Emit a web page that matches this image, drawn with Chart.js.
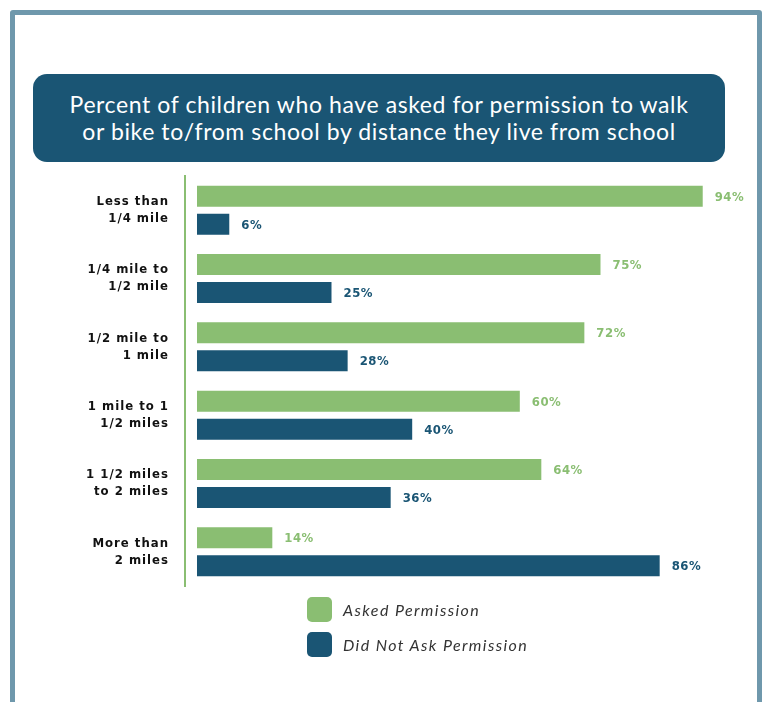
<!DOCTYPE html>
<html>
<head>
<meta charset="utf-8">
<script src="https://cdn.jsdelivr.net/npm/chart.js@4"></script>
<style>
  html, body { margin: 0; padding: 0; background: #fff; overflow: hidden; }
  body { width: 763px; height: 702px; position: relative; }
  .frame {
    position: absolute; left: 10px; top: 10px; width: 752px; height: 740px;
    border: 5px solid #6f98ac; border-radius: 3px; box-sizing: border-box;
  }
  .title-box {
    position: absolute; left: 33px; top: 74px; width: 692px; height: 88px;
    background: #1a5574; border-radius: 14px; color: #fff;
    font-family: Lato, sans-serif; font-size: 23px; line-height: 27px;
    text-align: center; display: flex; align-items: center; justify-content: center;
    letter-spacing: 0.6px;
  }
  canvas#chart { position: absolute; left: 0; top: 0; }
  .legend { position: absolute; left: 307px; top: 597px; }
  .legend-item { display: flex; align-items: center; height: 25px; margin-bottom: 10px; }
  .legend-swatch { width: 25px; height: 25px; border-radius: 5px; margin-right: 11px; }
  .legend-text {
    font-family: Lato, sans-serif; font-style: italic; font-size: 16px;
    letter-spacing: 1.4px; color: #333;
  }
</style>
</head>
<body>
<div class="frame"></div>
<div class="title-box">
  <div>Percent of children who have asked for permission to walk<br>or bike to/from school by distance they live from school</div>
</div>
<canvas id="chart" width="763" height="702"></canvas>
<div class="legend" id="legend"></div>

<script>
// ---- data ----
const distances = [
  ['Less than', '1/4 mile'],
  ['1/4 mile to', '1/2 mile'],
  ['1/2 mile to', '1 mile'],
  ['1 mile to 1', '1/2 miles'],
  ['1 1/2 miles', 'to 2 miles'],
  ['More than', '2 miles'],
];
const askedPermission = [94, 75, 72, 60, 64, 14];
const didNotAsk = [6, 25, 28, 40, 36, 86];
const seriesNames = ['Asked Permission', 'Did Not Ask Permission'];

const GREEN = '#8abe72';
const BLUE = '#1a5574';

// value labels at the end of each bar
const barValueLabels = {
  id: 'barValueLabels',
  afterDatasetsDraw(chart) {
    const ctx = chart.ctx;
    ctx.save();
    ctx.font = 'bold 13px "DejaVu Sans Condensed", sans-serif';
    ctx.letterSpacing = '0.5px';
    ctx.textAlign = 'left';
    ctx.textBaseline = 'middle';
    chart.data.datasets.forEach((ds, i) => {
      const meta = chart.getDatasetMeta(i);
      ctx.fillStyle = ds.backgroundColor;
      meta.data.forEach((bar, j) => {
        ctx.fillText(ds.data[j] + '%', bar.x + 12, bar.y + 1);
      });
    });
    ctx.restore();
  },
};

// a bit of tracking on the category labels
const tracking = {
  id: 'tracking',
  beforeDraw(chart) { chart.ctx.letterSpacing = '1px'; },
};

const chart = new Chart(document.getElementById('chart'), {
  type: 'bar',
  data: {
    labels: distances,
    datasets: [
      { label: seriesNames[0], data: askedPermission, backgroundColor: GREEN },
      { label: seriesNames[1], data: didNotAsk, backgroundColor: BLUE },
    ],
  },
  options: {
    indexAxis: 'y',
    responsive: false,
    animation: false,
    categoryPercentage: 0.82,
    barPercentage: 0.75,
    layout: { padding: { left: 0, right: 28, top: 176, bottom: 116 } },
    plugins: {
      legend: { display: false },
      tooltip: { enabled: false },
    },
    scales: {
      x: { display: false, min: -2.23, max: 100 },
      y: {
        grid: { display: false, drawTicks: false },
        border: { display: true, color: GREEN, width: 2 },
        ticks: {
          padding: 16,
          color: '#111',
          font: { family: '"DejaVu Sans Condensed", sans-serif', size: 13, weight: 'bold', lineHeight: 1.3 },
        },
        afterFit(scale) { scale.width = 185; },
      },
    },
  },
  plugins: [barValueLabels, tracking],
});

// html legend built from the datasets
document.getElementById('legend').innerHTML = chart.data.datasets.map((ds) => `
  <div class="legend-item">
    <span class="legend-swatch" style="background:${ds.backgroundColor}"></span>
    <span class="legend-text">${ds.label}</span>
  </div>`).join('');
</script>
</body>
</html>
